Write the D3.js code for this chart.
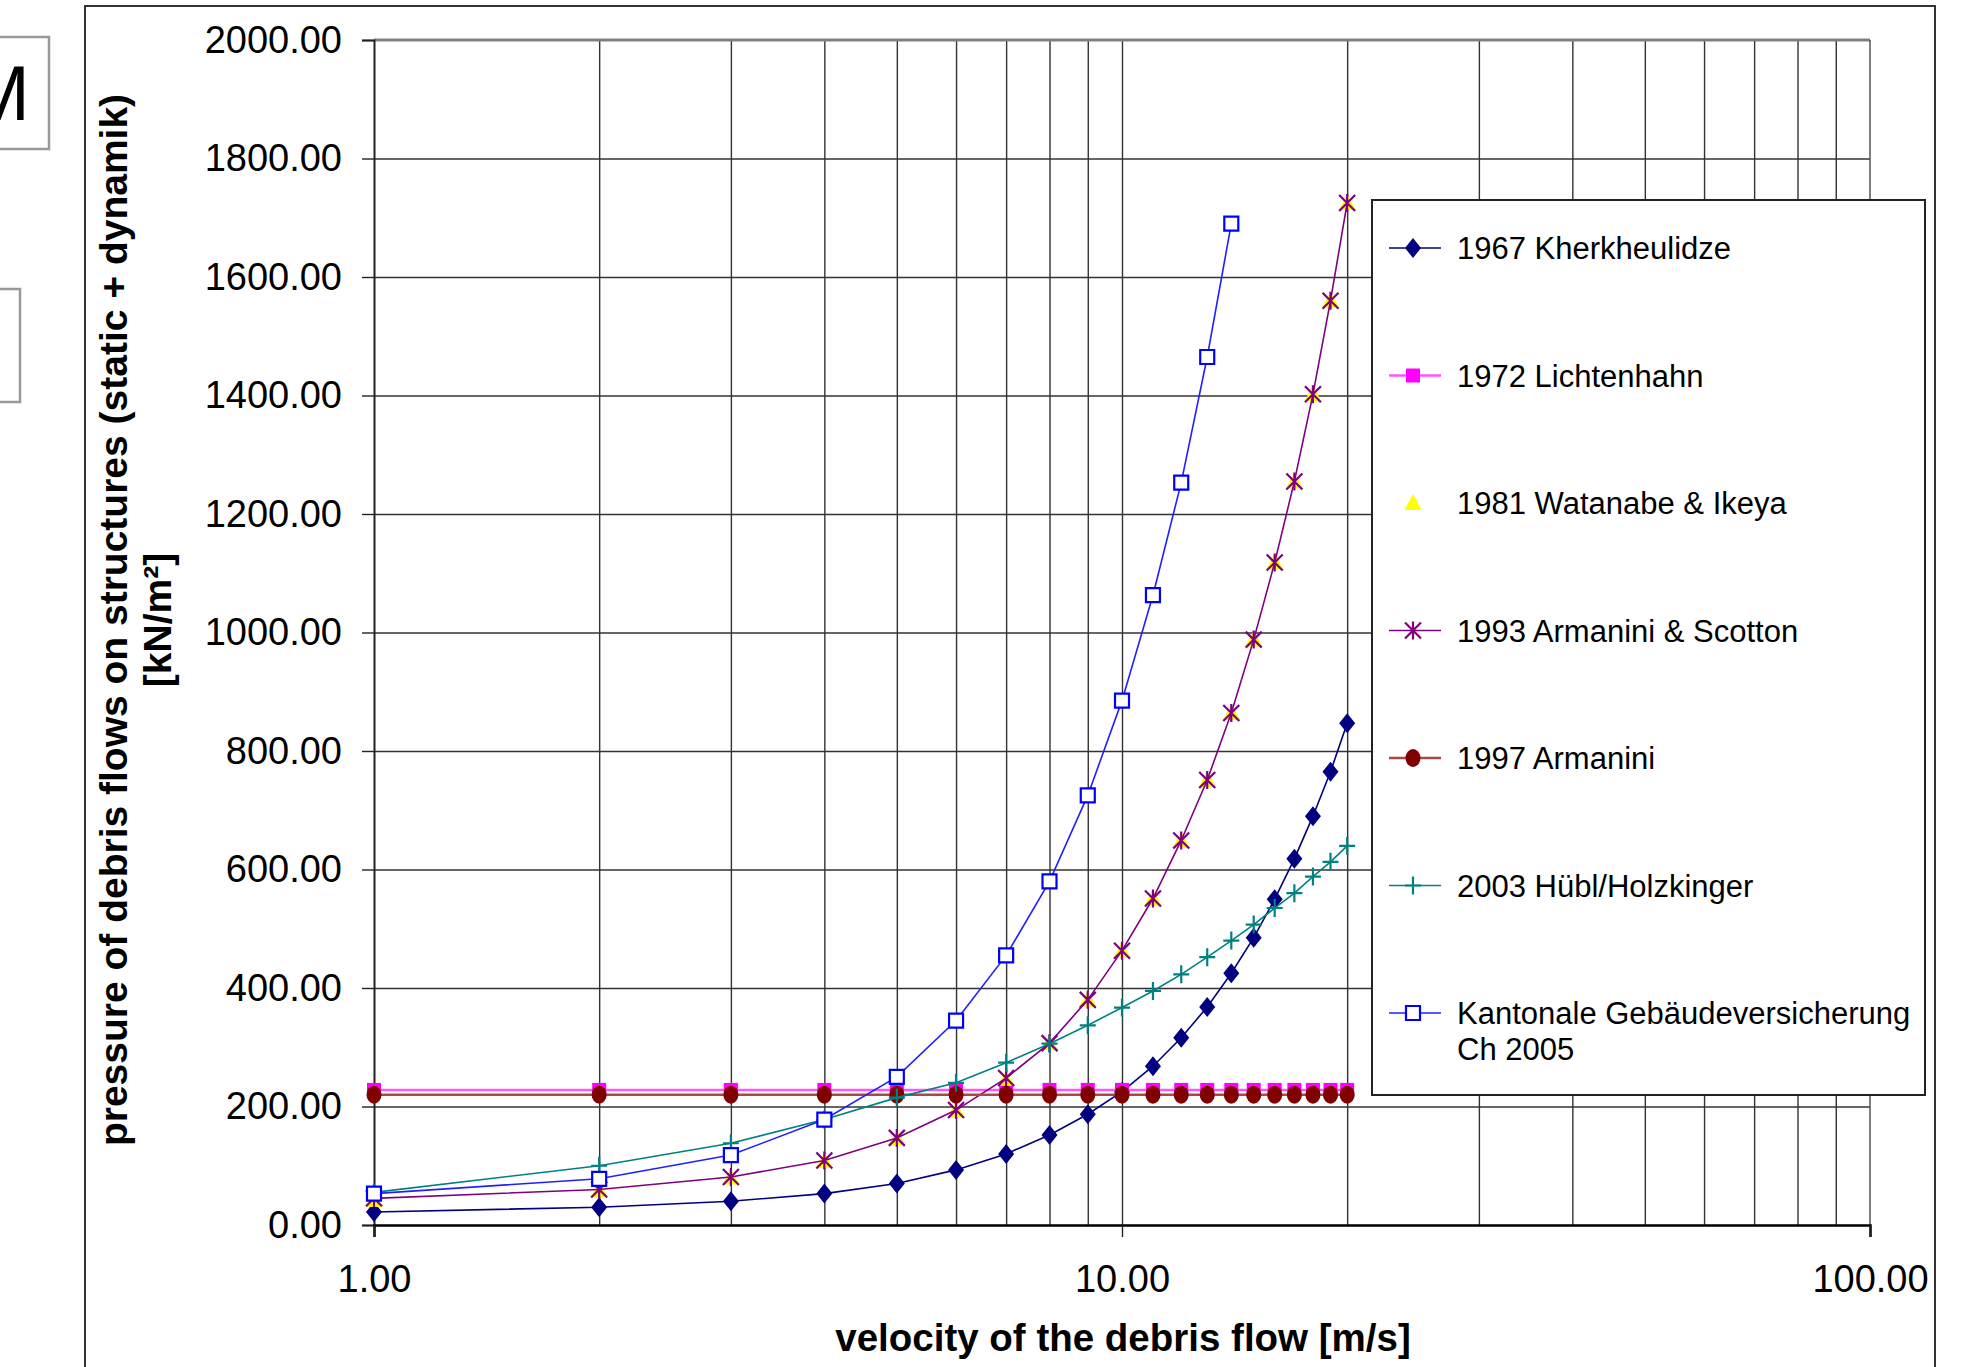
<!DOCTYPE html>
<html>
<head>
<meta charset="utf-8">
<script src="https://cdn.jsdelivr.net/npm/d3@7"></script>
<style>
  body { margin: 0; background: #fff; }
  text { font-family: "Liberation Sans", Arial, sans-serif; }
</style>
</head>
<body>
<div id="chart"></div>
<script>
var svgWidth = 1979;
var svgHeight = 1367;

// velocities [m/s]
var velocity = [1, 2, 3, 4, 5, 6, 7, 8, 9, 10, 11, 12, 13, 14, 15, 16, 17, 18, 19, 20];
var velocityKGV = [1, 2, 3, 4, 5, 6, 7, 8, 9, 10, 11, 12, 13, 14];

// pressures [kN/m²]
var kherkheulidze = [22, 30, 40, 53, 70, 93, 120, 152, 187, 225, 268, 316, 368, 425, 485, 550, 618, 690, 765, 847];
var lichtenhahn = [228, 228, 228, 228, 228, 228, 228, 228, 228, 228, 228, 228, 228, 228, 228, 228, 228, 228, 228, 228];
var watanabe = [42, 59, 80, 108, 146, 193, 247, 307, 380, 463, 551, 649, 751, 864, 988, 1118, 1255, 1402, 1560, 1725];
var armaniniScotton = [45, 60, 81, 109, 147, 194, 248, 307, 380, 463, 551, 649, 751, 864, 988, 1118, 1255, 1402, 1560, 1725];
var armanini1997 = [220, 220, 220, 220, 220, 220, 220, 220, 220, 220, 220, 220, 220, 220, 220, 220, 220, 220, 220, 220];
var hubl = [55, 100, 138, 178, 215, 240, 274, 306, 337, 367, 395, 423, 452, 480, 507, 535, 560, 588, 613, 640];
var kantonale = [53, 78, 118, 178, 250, 345, 455, 580, 725, 885, 1063, 1253, 1465, 1690];

var seriesNames = ["1967 Kherkheulidze", "1972 Lichtenhahn", "1981 Watanabe & Ikeya",
  "1993 Armanini & Scotton", "1997 Armanini", "2003 Hübl/Holzkinger",
  "Kantonale Gebäudeversicherung|Ch 2005"];

var yTicks = [0, 200, 400, 600, 800, 1000, 1200, 1400, 1600, 1800, 2000];
var xTicks = [1, 10, 100];
var xGrid = [2, 3, 4, 5, 6, 7, 8, 9, 10, 20, 30, 40, 50, 60, 70, 80, 90];

var margin = { top: 40, left: 374 };
var width = 1870 - 374;
var height = 1225 - 40;

var svg = d3.select("#chart")
  .append("svg")
  .attr("width", svgWidth)
  .attr("height", svgHeight);

// leftovers of neighbouring boxes at the left edge
svg.append("rect")
  .attr("x", -10).attr("y", 37).attr("width", 59).attr("height", 112)
  .attr("fill", "#fff").attr("stroke", "#999").attr("stroke-width", 2.5);
svg.append("text")
  .attr("x", 30).attr("y", 120)
  .attr("text-anchor", "end")
  .attr("font-size", "77px")
  .text("M");
svg.append("rect")
  .attr("x", -10).attr("y", 289).attr("width", 30).attr("height", 113)
  .attr("fill", "#fff").attr("stroke", "#999").attr("stroke-width", 2.5);

// chart frame
svg.append("rect")
  .attr("x", 85).attr("y", 6).attr("width", 1850).attr("height", 1420)
  .attr("fill", "#fff").attr("stroke", "#333").attr("stroke-width", 2);

var chartGroup = svg.append("g")
  .attr("transform", `translate(${margin.left}, ${margin.top})`);

var xLogScale = d3.scaleLog()
  .domain([1, 100])
  .range([0, width]);

var yLinearScale = d3.scaleLinear()
  .domain([0, 2000])
  .range([height, 0]);

// gridlines
var yGrid = chartGroup.append("g")
  .call(d3.axisLeft(yLinearScale).tickValues(yTicks.slice(1, -1)).tickSize(-width).tickFormat(""));
yGrid.select(".domain").remove();
yGrid.selectAll("line").attr("stroke", "#333").attr("stroke-width", 1.4);

var xGridG = chartGroup.append("g")
  .attr("transform", `translate(0, ${height})`)
  .call(d3.axisBottom(xLogScale).tickValues(xGrid).tickSize(-height).tickFormat(""));
xGridG.select(".domain").remove();
xGridG.selectAll("line").attr("stroke", "#333").attr("stroke-width", 1.4);

// top and right edge of plot
chartGroup.append("line")
  .attr("x1", 0).attr("x2", width)
  .attr("y1", yLinearScale(2000)).attr("y2", yLinearScale(2000))
  .attr("stroke", "#808080").attr("stroke-width", 3);
chartGroup.append("line")
  .attr("x1", xLogScale(100)).attr("x2", xLogScale(100))
  .attr("y1", 0).attr("y2", height)
  .attr("stroke", "#555").attr("stroke-width", 1.5);

// axes
var leftAxis = d3.axisLeft(yLinearScale)
  .tickValues(yTicks)
  .tickSize(12)
  .tickPadding(20)
  .tickFormat(d3.format(".2f"));
var yAxisG = chartGroup.append("g").call(leftAxis);
yAxisG.select(".domain").attr("stroke", "#222").attr("stroke-width", 2);
yAxisG.selectAll("line").attr("stroke", "#222").attr("stroke-width", 1.4);
yAxisG.selectAll("text")
  .attr("font-size", "38px")
  .attr("font-family", "Liberation Sans, Arial, sans-serif")
  .attr("fill", "#000");

var bottomAxis = d3.axisBottom(xLogScale)
  .tickValues(xTicks)
  .tickSize(12)
  .tickPadding(28)
  .tickFormat(d3.format(".2f"));
var xAxisG = chartGroup.append("g")
  .attr("transform", `translate(0, ${height})`)
  .call(bottomAxis);
xAxisG.select(".domain").attr("stroke", "#000").attr("stroke-width", 2.5);
xAxisG.selectAll("line").attr("stroke", "#222").attr("stroke-width", 1.4);
xAxisG.selectAll("text")
  .attr("font-size", "38px")
  .attr("font-family", "Liberation Sans, Arial, sans-serif")
  .attr("fill", "#000");

// markers
function markerPath(type) {
  switch (type) {
    case "diamond": return "M0,-10L8,0L0,10L-8,0Z";
    case "square": return "M-7,-7H7V7H-7Z";
    case "triangle": return "M0,-9L8.5,7H-8.5Z";
    case "asterisk": return "M-8,-8L8,8M-8,8L8,-8M0,-9V9";
    case "circle": return "M-7.5,0A7.5,9 0 1,0 7.5,0A7.5,9 0 1,0 -7.5,0Z";
    case "plus": return "M-8,0H8M0,-9V9";
  }
}

var series = [
  { name: seriesNames[0], xs: velocity, ys: kherkheulidze, line: "#000080", lw: 1.6, marker: "diamond", fill: "#000080", stroke: "none" },
  { name: seriesNames[1], xs: velocity, ys: lichtenhahn, line: "#ff55ff", lw: 2.5, marker: "square", fill: "#ff00ff", stroke: "none" },
  { name: seriesNames[2], xs: velocity, ys: watanabe, line: null, marker: "triangle", fill: "#ffff00", stroke: "none" },
  { name: seriesNames[3], xs: velocity, ys: armaniniScotton, line: "#800080", lw: 1.6, marker: "asterisk", fill: "none", stroke: "#800080" },
  { name: seriesNames[4], xs: velocity, ys: armanini1997, line: "#a84848", lw: 2.5, marker: "circle", fill: "#800000", stroke: "none" },
  { name: seriesNames[5], xs: velocity, ys: hubl, line: "#008080", lw: 1.6, marker: "plus", fill: "none", stroke: "#008080" },
  { name: seriesNames[6], xs: velocityKGV, ys: kantonale, line: "#2020ff", lw: 1.6, marker: "square", fill: "#fff", stroke: "#0000ff" }
];

var line = d3.line()
  .x(d => xLogScale(d[0]))
  .y(d => yLinearScale(d[1]));

series.forEach(function(s) {
  var pts = s.xs.map((v, i) => [v, s.ys[i]]);
  var g = chartGroup.append("g");
  if (s.line) {
    g.append("path")
      .datum(pts)
      .attr("d", line)
      .attr("fill", "none")
      .attr("stroke", s.line)
      .attr("stroke-width", s.lw);
  }
  g.selectAll("path.marker")
    .data(pts)
    .enter()
    .append("path")
    .attr("class", "marker")
    .attr("transform", d => `translate(${xLogScale(d[0])}, ${yLinearScale(d[1])})`)
    .attr("d", markerPath(s.marker))
    .attr("fill", s.fill)
    .attr("stroke", s.stroke)
    .attr("stroke-width", 2.2);
});

// axis titles
svg.append("text")
  .attr("x", 1123).attr("y", 1351)
  .attr("text-anchor", "middle")
  .attr("font-size", "38.5px")
  .attr("font-weight", "bold")
  .text("velocity of the debris flow [m/s]");

var yTitle = svg.append("text")
  .attr("transform", "translate(127, 620) rotate(-90)")
  .attr("text-anchor", "middle")
  .attr("font-size", "39px")
  .attr("font-weight", "bold");
yTitle.append("tspan").attr("x", 0).attr("y", 0)
  .text("pressure of debris flows on structures (static + dynamik)");
yTitle.append("tspan").attr("x", 0).attr("y", 44)
  .text("[kN/m²]");

// legend
var legend = svg.append("g");
legend.append("rect")
  .attr("x", 1372).attr("y", 200).attr("width", 553).attr("height", 895)
  .attr("fill", "#fff").attr("stroke", "#222").attr("stroke-width", 2);

var legendY = d3.scalePoint()
  .domain(seriesNames)
  .range([248, 1013]);

series.forEach(function(s) {
  var cy = legendY(s.name);
  var item = legend.append("g");
  if (s.line) {
    item.append("line")
      .attr("x1", 1389).attr("x2", 1441)
      .attr("y1", cy).attr("y2", cy)
      .attr("stroke", s.line).attr("stroke-width", s.lw);
  }
  item.append("path")
    .attr("transform", `translate(1413, ${cy})`)
    .attr("d", markerPath(s.marker))
    .attr("fill", s.fill)
    .attr("stroke", s.stroke)
    .attr("stroke-width", 2.2);
  var lines = s.name.split("|");
  var t = item.append("text")
    .attr("font-size", "31px")
    .attr("x", 1457)
    .attr("y", cy + 11);
  lines.forEach(function(l, i) {
    t.append("tspan").attr("x", 1457).attr("dy", i === 0 ? 0 : 36).text(l);
  });
});
</script>
</body>
</html>
